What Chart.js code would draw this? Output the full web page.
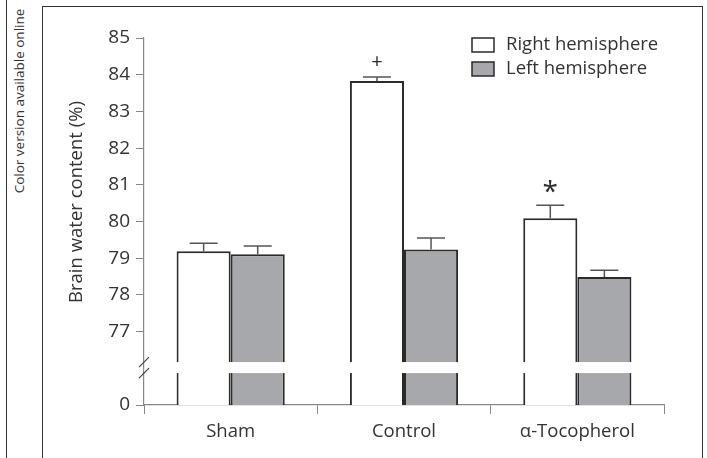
<!DOCTYPE html>
<html>
<head>
    <title>Brain water content</title>
    <script src="https://cdn.jsdelivr.net/npm/chart.js"></script>
    <style>
        body { margin: 0; background: #fff; }
        #wrap { position: relative; width: 707px; height: 458px; overflow: hidden; font-family: "Open Sans", sans-serif; }
        #side-line { position: absolute; left: 6px; top: 0; width: 0; height: 458px; border-left: 1.5px solid #333; }
        #frame { position: absolute; left: 42px; top: 6px; width: 659px; height: 470px; border: 1.5px solid #333; border-bottom: none; }
        #note { position: absolute; left: 19px; top: 101px; transform: translate(-50%, -50%) rotate(-90deg); white-space: nowrap; font-size: 13.5px; color: #333; }
        #box { position: absolute; left: 0; top: 0; width: 707px; height: 458px; }
    </style>
</head>
<body>
<div id="wrap">
    <div id="side-line"></div>
    <div id="frame"></div>
    <div id="note">Color version available online</div>
    <div id="box"><canvas id="grafico"></canvas></div>
</div>

<script>
    // datos
    const grupos = ['Sham', 'Control', 'α-Tocopherol'];
    const derecho = [79.19, 83.83, 80.09];
    const izquierdo = [79.11, 79.24, 78.49];
    const errDerecho = [0.22, 0.11, 0.35];
    const errIzquierdo = [0.22, 0.31, 0.18];
    const marcas = ['', '+', '*'];
    const ticksY = [75, 77, 78, 79, 80, 81, 82, 83, 84, 85];
    const etiquetaCero = 75;     // el "0" del eje roto
    const corte = [75.87, 76.17]; // zona del corte del eje
    const tituloY = 'Brain water content (%)';

    const tinta = '#2b2b2b';
    const gris = '#888';
    const fuente = '"Open Sans", sans-serif';

    const errores = {
        id: 'errores',
        afterDatasetsDraw(chart) {
            const ctx = chart.ctx;
            const y = chart.scales.y;
            const errs = [errDerecho, errIzquierdo];
            ctx.save();
            ctx.strokeStyle = '#555';
            ctx.lineWidth = 1.5;
            chart.data.datasets.forEach((ds, i) => {
                chart.getDatasetMeta(i).data.forEach((bar, j) => {
                    const top = y.getPixelForValue(ds.data[j] + errs[i][j]);
                    ctx.beginPath();
                    ctx.moveTo(bar.x, bar.y);
                    ctx.lineTo(bar.x, top);
                    ctx.moveTo(bar.x - 14, top);
                    ctx.lineTo(bar.x + 14, top);
                    ctx.stroke();
                    if (i === 0 && marcas[j]) {
                        ctx.fillStyle = tinta;
                        ctx.textAlign = 'center';
                        ctx.textBaseline = 'middle';
                        ctx.font = (marcas[j] === '*' ? '28px ' : '20px ') + fuente;
                        ctx.fillText(marcas[j], bar.x, top - (marcas[j] === '*' ? 12 : 15));
                    }
                });
            });

            // corte del eje
            const a = chart.chartArea;
            const y1 = y.getPixelForValue(corte[1]);
            const y2 = y.getPixelForValue(corte[0]);
            ctx.fillStyle = '#fff';
            ctx.fillRect(a.left + 1, y1, a.right - a.left, y2 - y1);
            ctx.strokeStyle = '#444';
            ctx.lineWidth = 1.2;
            [y1, y2].forEach(yy => {
                ctx.beginPath();
                ctx.moveTo(a.left - 5, yy + 5);
                ctx.lineTo(a.left + 5, yy - 5);
                ctx.stroke();
            });

            // titulo del eje y
            ctx.save();
            ctx.translate(77, 202);
            ctx.rotate(-Math.PI / 2);
            ctx.font = '18.5px ' + fuente;
            ctx.fillStyle = '#333';
            ctx.textAlign = 'center';
            ctx.textBaseline = 'middle';
            ctx.fillText(tituloY, 0, 0);
            ctx.restore();

            // leyenda
            const items = chart.data.datasets;
            ctx.font = '18.5px ' + fuente;
            ctx.textAlign = 'left';
            ctx.textBaseline = 'middle';
            items.forEach((ds, i) => {
                const yy = 38 + i * 24;
                ctx.fillStyle = ds.backgroundColor;
                ctx.fillRect(472, yy, 22, 14);
                ctx.strokeStyle = tinta;
                ctx.lineWidth = 1.5;
                ctx.strokeRect(472, yy, 22, 14);
                ctx.fillStyle = '#333';
                ctx.fillText(ds.label, 506, yy + 7);
            });
            ctx.restore();
        }
    };

    new Chart(document.getElementById('grafico'), {
        type: 'bar',
        data: {
            labels: grupos,
            datasets: [
                { label: 'Right hemisphere', data: derecho, backgroundColor: '#ffffff', borderColor: tinta, borderWidth: 2, borderSkipped: false },
                { label: 'Left hemisphere', data: izquierdo, backgroundColor: '#a7a8ab', borderColor: tinta, borderWidth: 2, borderSkipped: false }
            ]
        },
        options: {
            responsive: true,
            maintainAspectRatio: false,
            animation: false,
            layout: { padding: { left: 60, top: 38, right: 43, bottom: 0 } },
            datasets: { bar: { categoryPercentage: 0.624, barPercentage: 1 } },
            plugins: {
                legend: { display: false },
                tooltip: { enabled: false }
            },
            scales: {
                x: {
                    afterFit: s => { s.height = 53; },
                    grid: { drawOnChartArea: false, drawTicks: true, tickLength: 9, color: gris, offset: true },
                    border: { color: gris, width: 1.2 },
                    ticks: { color: '#333', padding: 7, font: { family: fuente, size: 18.5 } }
                },
                y: {
                    min: 75,
                    max: 85,
                    afterFit: s => { s.width = 84; },
                    afterBuildTicks: s => { s.ticks = ticksY.map(v => ({ value: v })); },
                    grid: { drawOnChartArea: false, drawTicks: true, tickLength: 8, color: gris },
                    border: { color: gris, width: 1.2 },
                    ticks: {
                        color: '#333',
                        padding: 6,
                        font: { family: fuente, size: 19 },
                        callback: v => v === etiquetaCero ? '0' : v
                    }
                }
            }
        },
        plugins: [errores]
    });
</script>
</body>
</html>
